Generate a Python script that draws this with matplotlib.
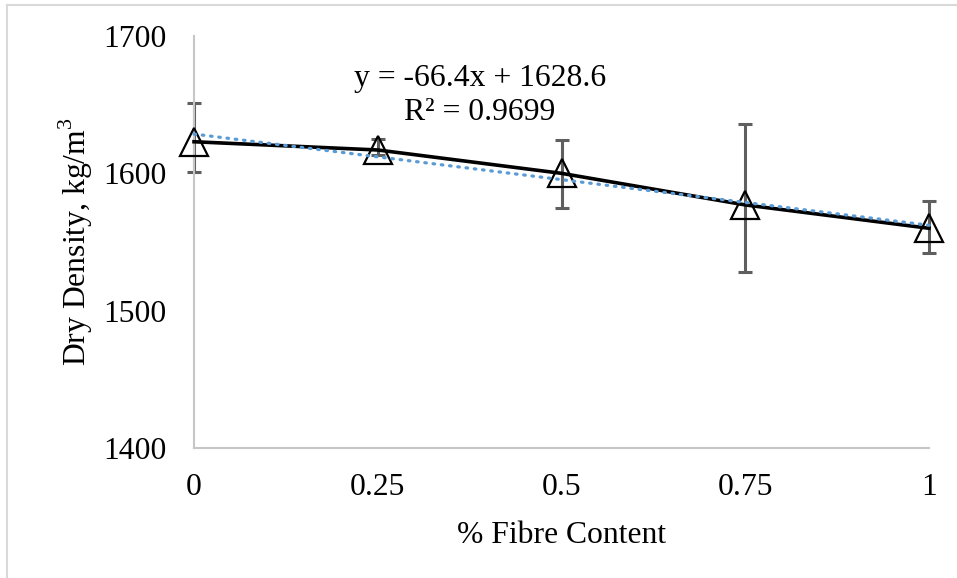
import matplotlib
matplotlib.use("Agg")
import matplotlib.pyplot as plt
import numpy as np
from matplotlib.lines import Line2D

fibre = [0, 0.25, 0.5, 0.75, 1.0]
density = [1623, 1617, 1600, 1577, 1560]
err_lower = [22, 4, 25, 49, 18]
err_upper = [28, 8, 24, 59, 20]
x_ticks = [0, 0.25, 0.5, 0.75, 1]
x_ticklabels = ["0", "0.25", "0.5", "0.75", "1"]
y_ticks = [1400, 1500, 1600, 1700]

plt.rcParams['font.family'] = ['Liberation Serif', 'DejaVu Serif']
plt.rcParams['mathtext.fontset'] = 'custom'
plt.rcParams['mathtext.rm'] = 'Liberation Serif'

FS = 22.8
fig = plt.figure(figsize=(9.57, 5.78), dpi=100)
ax = fig.add_axes([194/957, 1 - 448/578, (929-194)/957, (448-36)/578])

ax.errorbar(fibre, density, yerr=[err_lower, err_upper], fmt='none',
            ecolor='#5f5f5f', elinewidth=2.2, capsize=5, capthick=2.2, zorder=2,
            clip_on=False)
ax.plot(fibre, density, color='black', linewidth=2.6, zorder=3, clip_on=False)
ax.plot(fibre, density, linestyle='none', marker='^', markersize=20,
        markerfacecolor='none', markeredgecolor='black', markeredgewidth=1.6,
        zorder=4, clip_on=False)

slope, intercept = np.polyfit(fibre, density, 1)
xx = np.array([0, 1.0])
ax.plot(xx, slope*xx + intercept, color='#5b9bd5', linewidth=2.3,
        linestyle=(0, (0.5, 2.1)), dash_capstyle='round', zorder=5, clip_on=False)

ax.set_xlim(0, 1)
ax.set_ylim(1400, 1700)
ax.set_xticks(x_ticks)
ax.set_xticklabels(x_ticklabels)
ax.set_yticks(y_ticks)
ax.tick_params(axis='both', length=0, labelsize=FS)
ax.tick_params(axis='x', pad=18)
ax.tick_params(axis='y', pad=20)
for s in ['top', 'right']:
    ax.spines[s].set_visible(False)
for s in ['left', 'bottom']:
    ax.spines[s].set_color('#c6c6c6')
    ax.spines[s].set_linewidth(1.5)

ax.set_xlabel('% Fibre Content', fontsize=FS, labelpad=14)
ax.set_ylabel('Dry Density, kg/m$^3$', fontsize=FS, labelpad=6)

fig.text(480/957, 1 - 78/578, 'y = -66.4x + 1628.6', fontsize=FS, ha='center', va='center')
fig.text(480/957, 1 - 113/578, 'R² = 0.9699', fontsize=FS, ha='center', va='center')

fig.add_artist(Line2D([7/957, 7/957], [0, 1 - 5/578], transform=fig.transFigure,
                      color='#d9d9d9', linewidth=1.5))
fig.add_artist(Line2D([7/957, 1], [1 - 5/578, 1 - 5/578], transform=fig.transFigure,
                      color='#d9d9d9', linewidth=1.5))

fig.savefig('out.png', dpi=100)
